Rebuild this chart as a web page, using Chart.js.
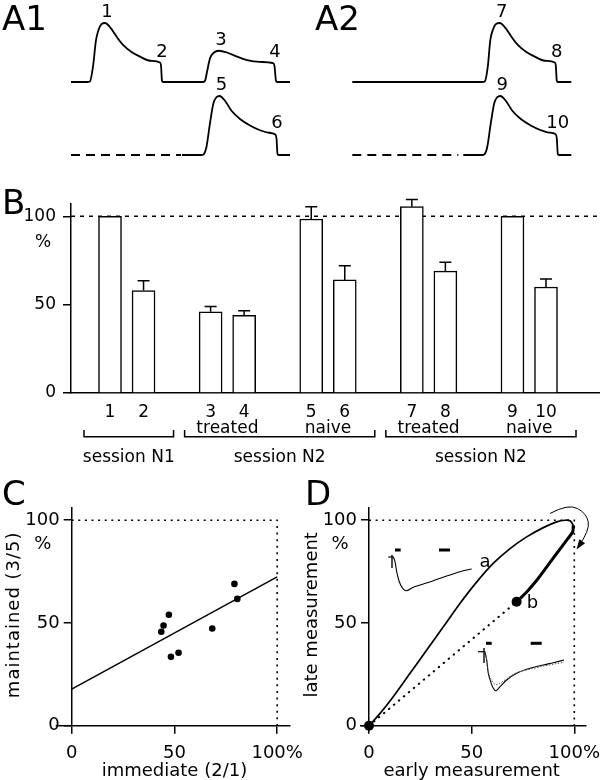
<!DOCTYPE html>
<html>
<head>
<meta charset="utf-8">
<script src="https://cdn.jsdelivr.net/npm/chart.js@4.4.1/dist/chart.umd.min.js"></script>
<style>
html, body { margin:0; padding:0; background:#fff; }
#page { position:relative; width:600px; height:780px; overflow:hidden; background:#fff; }
canvas { position:absolute; display:block; }
</style>
</head>
<body>
<div id="page">
  <canvas id="cA1" width="300" height="170" style="left:0;top:0"></canvas>
  <canvas id="cA2" width="300" height="170" style="left:300px;top:0"></canvas>
  <canvas id="cB" width="600" height="290" style="left:0;top:180px"></canvas>
  <canvas id="cC" width="320" height="300" style="left:0;top:480px"></canvas>
  <canvas id="cD" width="340" height="300" style="left:300px;top:480px"></canvas>
  <canvas id="cIa" width="95" height="50" style="left:385px;top:545px"></canvas>
  <canvas id="cIb" width="95" height="60" style="left:475px;top:638px"></canvas>
</div>
<script>
// ================= DATA =================
// Panel A: recorded responses, [time (ms), response (% of peak)]
const trace1 = [[0,0],[17,0],[19,1],[22,26],[25,71],[27.5,88],[30.5,98],[34,100],[39,93],[45.5,77],[52,63],[60.5,51],[69,43],[79,36],[89,33],[90,28],[91,2],[92,0],[132,0],[134,2],[136,17],[139,40],[143,50],[148,53],[156,50],[166,43],[176,37],[189,34],[202,32],[203.5,27],[205,2],[206,0],[219,0]];
const trace2Absent = [[0,0],[110,0]];
const trace2 = [[111,0],[130,0],[132.5,1],[135.5,14],[139,54],[142.5,88],[145.5,98],[148.5,100],[154,92],[160.5,75],[169,61],[179,50],[189,42],[197,38],[204,35],[205.5,28],[206.5,2],[207.5,0],[219,0]];
const trace7 = [[0,0],[130,0],[132.5,1],[135.5,26],[138,71],[140.5,88],[143.5,98],[147.5,100],[152.5,93],[159,77],[165.5,63],[174,51],[182.5,43],[192.5,36],[202.5,33],[203.5,28],[204.5,2],[205.5,0],[219,0]];
const trace9Absent = [[0,0],[106,0]];
const trace9 = [[111,0],[129.5,0],[132,1],[135,14],[138.5,54],[142,88],[145,98],[148,100],[153.5,92],[160,75],[168.5,61],[178.5,50],[188.5,42],[196.5,38],[203.5,35],[204.5,28],[205.5,2],[206.5,0],[219,0]];
const a1Labels = ['1','2','3','4','5','6'];
const a2Labels = ['7','8','9','10'];

// Panel B
const barLabels = ['1','2','3','4','5','6','7','8','9','10'];
const barMeans  = [100, 58, 46, 44, 98.5, 64, 105.5, 69, 100, 60];
const barSEM    = [0, 5.5, 3, 2.5, 7, 8, 4, 5, 0, 4.5];
const pairLabels = ['', 'treated', 'naive', 'treated', 'naive'];
const sessionLabels = ['session N1', 'session N2', 'session N2'];
const sessionFirstPair = [0, 1, 3];
const sessionLastPair  = [0, 2, 4];
const bTicks = [0, 50, 100];

// Panel C
const cImmediate  = [43.6, 44.7, 47.3, 48.3, 52.0, 68.4, 79.2, 80.6];
const cMaintained = [45.7, 48.8, 54.0, 33.5, 35.5, 47.3, 69.0, 61.7];
const cFitX = [0, 100];
const cFitY = [17.8, 72.4];
const axisTicks = [0, 50, 100];

// Panel D
const dRise = [[0,0],[5.4,6],[11.8,14.1],[20,25.5],[28.1,36.8],[36.2,48.1],[44.3,59.5],[52.5,70],[60.5,79],[68.7,86.2],[76.8,91.9],[84.9,96.4],[91.4,99.2],[95.5,100],[97.9,99.7],[99.5,97.6]];
const dReturn = [[99.5,97.6],[99.2,94.3],[96.3,90.3],[91.4,83.8],[86.6,77.3],[81.7,70.8],[76.8,65.1],[71.9,60.3]];
const dStartPoint = [0, 0];
const dEndPoint = [71.9, 60.3];
const dArrow = [[88.2,103.3],[97.1,108.1],[106,103.3],[107.6,95.1],[101.9,87]];
const dTextA = [56.5, 79.6];
const dTextB = [79.6, 59.6];

// Insets in D: [time (ms), current (a.u.)]
const insetA = [[8.3,0.3],[10,-4.7],[11.7,-14.7],[14.3,-24.7],[17.7,-31.3],[21.7,-33.7],[28.3,-30.3],[38.3,-27],[48.3,-23.7],[61.7,-19],[75,-14.7],[86.7,-12]];
const insetAArtV = [[7,2],[7,-11]];
const insetAArtH = [[3.3,0],[8.3,0]];
const insetAStim1 = [[10,7],[15.7,7]];
const insetAStim2 = [[54,7],[65,7]];
const insetB1 = [[10,0],[11.7,-8.3],[13.3,-21.6],[15.7,-30],[18.3,-36.6],[21,-39],[25,-35],[31.7,-28.3],[41.7,-21.6],[55,-16.6],[68.3,-13.3],[78.3,-11],[89,-8.3]];
const insetB2 = [[10,0],[11.7,-8],[13.3,-20],[15.7,-27],[18.3,-31],[21,-33],[25,-31.5],[31.7,-27],[41.7,-21],[55,-17.5],[68.3,-14.5],[78.3,-12.5],[89,-10.5]];
const insetBArtV = [[9,3.7],[9,-11.3]];
const insetBArtH = [[3,0],[10,0]];
const insetBStim1 = [[11,8.4],[16.7,8.4]];
const insetBStim2 = [[55.7,8.4],[66.7,8.4]];

// ================= HELPERS =================
const FONT = "'DejaVu Sans', sans-serif";
Chart.defaults.font.family = FONT;
Chart.defaults.color = '#000';
const pts = arr => arr.map(p => ({x:p[0], y:p[1]}));
const baseOpts = () => ({
  responsive:false, animation:false, devicePixelRatio:1,
  plugins:{ legend:{display:false}, tooltip:{enabled:false} },
  elements:{ point:{radius:0} }
});

// ================= PANEL A =================
const traceLabelPlugin = {
  id:'traceLabels',
  afterDraw(chart, args, opts) {
    const ctx = chart.ctx;
    ctx.save();
    ctx.fillStyle = '#000';
    ctx.font = "18px " + FONT;
    ctx.textAlign = 'center';
    ctx.textBaseline = 'alphabetic';
    opts.anchors.forEach((a, i) => {
      const el = chart.getDatasetMeta(a[0]).data[a[1]];
      ctx.fillText(opts.texts[i], el.x + 2, el.y - 6);
    });
    ctx.font = "34px " + FONT;
    ctx.textAlign = 'left';
    ctx.fillText(opts.panel, opts.panelX, 30);
    ctx.restore();
  }
};
function traceDs(arr, axis, dashed) {
  return { data: pts(arr), yAxisID: axis, borderColor:'#000', borderWidth:1.8,
           borderDash: dashed ? [9,6] : [], cubicInterpolationMode:'monotone', fill:false };
}
function traceChart(id, topTrace, botAbsent, botTrace, xMin, texts, panel, panelX) {
  const o = baseOpts();
  o.layout = {padding:0};
  o.scales = {
    x:{type:'linear', display:false, min:xMin, max:xMin+300},
    yTop:{display:false, min:-149.2, max:139},
    yBot:{display:false, min:-25.4, max:262.7}
  };
  o.plugins.traceLabels = { texts, panel, panelX,
    anchors: texts.length === 6 ? [[0,7],[0,14],[0,23],[0,28],[2,7],[2,14]] : [[0,7],[0,14],[2,7],[2,14]] };
  return new Chart(document.getElementById(id), {
    type:'line',
    data:{ datasets:[ traceDs(topTrace,'yTop',false), traceDs(botAbsent,'yBot',true), traceDs(botTrace,'yBot',false) ] },
    options:o, plugins:[traceLabelPlugin]
  });
}
traceChart('cA1', trace1, trace2Absent, trace2, -71, a1Labels, 'A1', 2);
traceChart('cA2', trace7, trace9Absent, trace9, -52.3, a2Labels, 'A2', 15);

// ================= PANEL B =================
const slotOf = i => Math.floor(i/2)*3 + (i%2);
const barDecor = {
  id:'barDecor',
  beforeDatasetsDraw(chart) {
    const {ctx, chartArea, scales:{y}} = chart;
    const yy = y.getPixelForValue(100);
    ctx.save();
    ctx.strokeStyle = '#000'; ctx.lineWidth = 1.5; ctx.setLineDash([4,5]);
    ctx.beginPath(); ctx.moveTo(chartArea.left, yy); ctx.lineTo(chartArea.right, yy); ctx.stroke();
    ctx.restore();
  },
  afterDraw(chart) {
    const {ctx, scales:{x, y}} = chart;
    ctx.save();
    ctx.strokeStyle = '#000'; ctx.fillStyle = '#000'; ctx.lineWidth = 1.5;
    // error bars
    barMeans.forEach((m, i) => {
      if (!barSEM[i]) return;
      const px = x.getPixelForValue(slotOf(i));
      const y0 = y.getPixelForValue(m), y1 = y.getPixelForValue(m + barSEM[i]);
      ctx.beginPath(); ctx.moveTo(px, y0); ctx.lineTo(px, y1);
      ctx.moveTo(px - 6, y1); ctx.lineTo(px + 6, y1); ctx.stroke();
    });
    // bar numbers
    ctx.font = "17px " + FONT; ctx.textAlign = 'center'; ctx.textBaseline = 'alphabetic';
    barLabels.forEach((t, i) => ctx.fillText(t, x.getPixelForValue(slotOf(i)), 236.7));
    // pair labels
    pairLabels.forEach((t, p) => {
      if (!t) return;
      ctx.fillText(t, x.getPixelForValue(p*3 + 0.5), 253.3);
    });
    // brackets and session labels
    sessionLabels.forEach((t, s) => {
      const l = x.getPixelForValue(sessionFirstPair[s]*3) - 26;
      const r = x.getPixelForValue(sessionLastPair[s]*3 + 1) + 30;
      ctx.beginPath();
      ctx.moveTo(l, 250); ctx.lineTo(l, 256.7); ctx.lineTo(r, 256.7); ctx.lineTo(r, 250);
      ctx.stroke();
      ctx.fillText(t, (l + r) / 2, 281.7);
    });
    // % and panel letter
    ctx.textBaseline = 'middle';
    ctx.fillText('%', 43, 63);
    ctx.font = "34px " + FONT; ctx.textAlign = 'left'; ctx.textBaseline = 'alphabetic';
    ctx.fillText('B', 2, 34);
    ctx.restore();
  }
};
(function(){
  const o = baseOpts();
  o.layout = {padding:{top:24, left:0, right:0, bottom:0}};
  o.scales = {
    x:{ type:'linear', min:-1.163, max:14.61, offset:false,
        afterFit: s => { s.height = 77; },
        grid:{display:false, offset:false}, ticks:{display:false},
        border:{display:true, color:'#000', width:1.5} },
    y:{ min:0, max:107,
        afterBuildTicks: s => { s.ticks = bTicks.map(v => ({value:v})); },
        afterFit: s => { s.width = 71; },
        grid:{display:true, drawOnChartArea:false, tickLength:8, color:'#000', lineWidth:1.5},
        border:{display:true, color:'#000', width:1.5},
        ticks:{font:{size:17}, color:'#000', padding:7} }
  };
  new Chart(document.getElementById('cB'), {
    type:'bar',
    data:{ datasets:[{ data: barMeans.map((m,i) => ({x:slotOf(i), y:m})),
      backgroundColor:'#fff', borderColor:'#000', borderWidth:1.5, barThickness:23, borderSkipped:'start' }] },
    options:o, plugins:[barDecor]
  });
})();

// ================= PANELS C & D =================
const squareDecor = {
  id:'squareDecor',
  afterDraw(chart, args, opts) {
    const {ctx, chartArea, scales:{x, y}} = chart;
    ctx.save();
    ctx.fillStyle = '#000'; ctx.strokeStyle = '#000'; ctx.lineWidth = 1.5;
    // overhang of x axis left of y axis
    ctx.beginPath(); ctx.moveTo(chartArea.left - opts.overhang, chartArea.bottom); ctx.lineTo(chartArea.left, chartArea.bottom); ctx.stroke();
    ctx.font = "18px " + FONT;
    // x title
    ctx.textAlign = 'center'; ctx.textBaseline = 'alphabetic';
    ctx.fillText(opts.xTitle, x.getPixelForValue(50), chartArea.bottom + 49.8);
    // % label
    ctx.textBaseline = 'middle';
    ctx.fillText('%', chartArea.left - 29, y.getPixelForValue(100) + 24);
    // y title
    ctx.save();
    ctx.translate(chartArea.left - 57, (chartArea.top + chartArea.bottom) / 2 - 2);
    ctx.rotate(-Math.PI/2);
    if (opts.ySpacing) ctx.letterSpacing = opts.ySpacing;
    ctx.fillText(opts.yTitle, 0, 0);
    ctx.restore();
    // panel letter
    ctx.font = "34px " + FONT; ctx.textAlign = 'left'; ctx.textBaseline = 'alphabetic';
    ctx.fillText(opts.panel, opts.panelX, 25);
    // extra: arrow & text annotations
    if (opts.arrow) {
      const p = opts.arrow.map(a => [x.getPixelForValue(a[0]), y.getPixelForValue(a[1])]);
      ctx.lineWidth = 1;
      ctx.beginPath(); ctx.moveTo(p[0][0], p[0][1]);
      for (let i = 1; i < p.length - 1; i++) {
        const mx = (p[i][0] + p[i+1][0]) / 2, my = (p[i][1] + p[i+1][1]) / 2;
        ctx.quadraticCurveTo(p[i][0], p[i][1], i === p.length - 2 ? p[i+1][0] : mx, i === p.length - 2 ? p[i+1][1] : my);
      }
      ctx.stroke();
      const e = p[p.length-1], q = p[p.length-2];
      const ang = Math.atan2(e[1] - q[1], e[0] - q[0]);
      ctx.beginPath();
      ctx.moveTo(e[0] + 3*Math.cos(ang), e[1] + 3*Math.sin(ang));
      ctx.lineTo(e[0] - 7*Math.cos(ang) + 3.5*Math.sin(ang), e[1] - 7*Math.sin(ang) - 3.5*Math.cos(ang));
      ctx.lineTo(e[0] - 7*Math.cos(ang) - 3.5*Math.sin(ang), e[1] - 7*Math.sin(ang) + 3.5*Math.cos(ang));
      ctx.closePath(); ctx.fill();
    }
    if (opts.texts) {
      ctx.font = "18px " + FONT; ctx.textAlign = 'center'; ctx.textBaseline = 'middle';
      opts.texts.forEach(t => ctx.fillText(t[0], x.getPixelForValue(t[1][0]), y.getPixelForValue(t[1][1])));
    }
    ctx.restore();
  }
};
function squareScales(xMax, yAxisW) {
  return {
    x:{ type:'linear', min:0, max:xMax,
        afterBuildTicks: s => { s.ticks = axisTicks.map(v => ({value:v})); },
        afterFit: s => { s.height = 54.3; },
        ticks:{ autoSkip:false, maxRotation:0, font:{size:18}, color:'#000', padding:9,
                callback: v => v === 100 ? '100%' : String(v) },
        grid:{ drawOnChartArea:false, tickLength:8, color:'#000', lineWidth:1.5 },
        border:{ display:true, color:'#000', width:1.5 } },
    y:{ type:'linear', min:0, max:106,
        afterBuildTicks: s => { s.ticks = axisTicks.map(v => ({value:v})); },
        afterFit: s => { s.width = yAxisW; },
        ticks:{ font:{size:18}, color:'#000', padding:4 },
        grid:{ drawOnChartArea:false, tickLength:8, color:'#000', lineWidth:1.5 },
        border:{ display:true, color:'#000', width:1.5 } }
  };
}
const refLine = () => ({ type:'line', data:[{x:0,y:100},{x:100,y:100},{x:100,y:0}], showLine:true,
  borderColor:'#000', borderWidth:1.6, borderDash:[2,4.6], pointRadius:0, fill:false });

// C
(function(){
  const o = baseOpts();
  o.layout = {padding:{top:27.9, right:30.5, left:0, bottom:0}};
  o.scales = squareScales(106, 71.7);
  o.plugins.squareDecor = { xTitle:'immediate (2/1)', yTitle:'maintained (3/5)', ySpacing:'1px', panel:'C', panelX:2, overhang:16 };
  new Chart(document.getElementById('cC'), {
    type:'scatter',
    data:{ datasets:[
      refLine(),
      { type:'line', data: cFitX.map((v,i) => ({x:v, y:cFitY[i]})), showLine:true, borderColor:'#000', borderWidth:1.5, pointRadius:0 },
      { data: cImmediate.map((v,i) => ({x:v, y:cMaintained[i]})), pointRadius:3.3, pointBackgroundColor:'#000', pointBorderWidth:0 }
    ] },
    options:o, plugins:[squareDecor]
  });
})();

// D
(function(){
  const o = baseOpts();
  o.layout = {padding:{top:27.9, right:54, left:0, bottom:0}};
  o.scales = squareScales(105.7, 69);
  o.plugins.squareDecor = { xTitle:'early measurement', yTitle:'late measurement', panel:'D', panelX:5, overhang:9,
    arrow:dArrow, texts:[['a', dTextA], ['b', dTextB]] };
  new Chart(document.getElementById('cD'), {
    type:'scatter',
    data:{ datasets:[
      refLine(),
      { type:'line', data: pts([dStartPoint, dEndPoint]), showLine:true, borderColor:'#000', borderWidth:2,
        borderDash:[0.5,6], borderCapStyle:'round', pointRadius:0 },
      { type:'line', data: pts(dRise), showLine:true, borderColor:'#000', borderWidth:1.7, tension:0.35, pointRadius:0 },
      { type:'line', data: pts(dReturn), showLine:true, borderColor:'#000', borderWidth:3, tension:0.3, pointRadius:0 },
      { data: pts([dStartPoint, dEndPoint]), pointRadius:5, pointBackgroundColor:'#000', pointBorderWidth:0, clip:false }
    ] },
    options:o, plugins:[squareDecor]
  });
})();

// Insets
function insetChart(id, datasets, yMin, yMax) {
  const o = baseOpts();
  o.layout = {padding:0};
  o.scales = { x:{type:'linear', min:0, max:95, display:false}, y:{min:yMin, max:yMax, display:false} };
  new Chart(document.getElementById(id), { type:'line', data:{datasets}, options:o });
}
const lineDs = (arr, w, extra) => Object.assign({ data: pts(arr), borderColor:'#000', borderWidth:w, pointRadius:0, tension:0.3, fill:false }, extra || {});
insetChart('cIa', [
  lineDs(insetA, 1.1),
  lineDs(insetAArtV, 1.4, {tension:0}), lineDs(insetAArtH, 1.2, {tension:0}),
  lineDs(insetAStim1, 3, {tension:0}), lineDs(insetAStim2, 3, {tension:0})
], -38, 12);
insetChart('cIb', [
  lineDs(insetB2, 1, {borderColor:'#555', borderDash:[1.5,1.5]}),
  lineDs(insetB1, 1.1),
  lineDs(insetBArtV, 1.4, {tension:0}), lineDs(insetBArtH, 1.2, {tension:0}),
  lineDs(insetBStim1, 3, {tension:0}), lineDs(insetBStim2, 3, {tension:0})
], -46.3, 13.7);
</script>
</body>
</html>
